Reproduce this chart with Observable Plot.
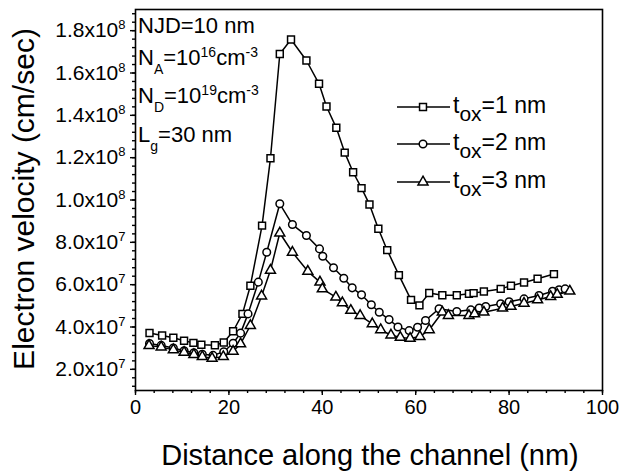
<!DOCTYPE html>
<html><head><meta charset="utf-8">
<script src="https://cdn.jsdelivr.net/npm/d3@7"></script>
<script src="https://cdn.jsdelivr.net/npm/@observablehq/plot@0.6"></script>
<style>body{margin:0;background:#fff} svg{display:block}</style>
</head><body><div id="chart"></div>
<script>
// ---- data (velocity in units of 1e7 cm/s) ----
const seriesNames = ["1", "2", "3"]; // t_ox in nm
const symbols = ["square", "circle", "triangle"];

const x1 = [3.0, 5.7, 8.1, 10.4, 12.4, 14.1, 17.0, 18.9, 20.9, 22.9, 24.6, 27.1, 28.9, 30.9, 33.3, 36.6, 39.3, 40.9, 43.0, 44.8, 46.6, 48.4, 50.1, 52.0, 53.9, 56.4, 59.0, 60.8, 62.9, 65.7, 68.8, 71.4, 72.4, 74.6, 78.2, 80.4, 83.2, 86.1, 89.6];
const v1 = [3.72, 3.60, 3.49, 3.35, 3.25, 3.16, 3.14, 3.27, 3.80, 4.62, 5.95, 8.79, 11.97, 16.9, 17.58, 16.59, 15.49, 14.42, 13.41, 12.24, 11.31, 10.56, 9.79, 8.64, 7.63, 6.45, 5.28, 5.02, 5.61, 5.50, 5.50, 5.57, 5.60, 5.68, 5.80, 5.95, 6.10, 6.28, 6.50];

const x2 = [3.0, 5.5, 8.1, 10.4, 12.5, 14.3, 16.6, 18.9, 20.9, 22.5, 24.1, 26.3, 28.1, 30.9, 33.6, 36.6, 39.4, 40.1, 42.4, 44.6, 46.4, 48.4, 50.5, 52.2, 54.3, 56.2, 58.6, 60.4, 62.1, 65.0, 68.8, 71.8, 73.6, 75.0, 78.2, 80.0, 83.2, 86.4, 89.3, 90.7, 92.0];
const v2 = [3.22, 3.13, 3.01, 2.88, 2.78, 2.71, 2.66, 2.83, 3.23, 3.71, 4.62, 6.12, 7.53, 9.82, 8.84, 8.32, 7.69, 7.34, 6.80, 6.30, 5.85, 5.52, 5.05, 4.70, 4.35, 4.00, 3.83, 3.99, 4.31, 4.86, 4.73, 4.81, 4.90, 4.97, 5.10, 5.19, 5.33, 5.49, 5.69, 5.76, 5.80];

const x3 = [2.9, 5.5, 8.1, 10.4, 12.5, 14.3, 16.4, 18.8, 20.9, 22.5, 24.6, 27.0, 28.9, 30.9, 33.6, 36.9, 39.5, 40.0, 42.9, 44.3, 46.1, 48.1, 50.7, 52.5, 54.7, 56.7, 58.8, 60.9, 62.9, 65.7, 67.0, 71.4, 72.6, 74.6, 78.6, 80.4, 83.2, 86.1, 88.9, 90.3, 93.0];
const v3 = [3.12, 3.05, 2.92, 2.80, 2.69, 2.60, 2.52, 2.60, 2.85, 3.20, 4.07, 5.46, 6.68, 8.44, 7.53, 6.63, 6.12, 5.80, 5.41, 5.14, 4.78, 4.54, 4.15, 3.87, 3.62, 3.51, 3.46, 3.55, 3.87, 4.70, 4.54, 4.54, 4.62, 4.70, 4.89, 4.97, 5.12, 5.28, 5.44, 5.54, 5.69];

const xTicks = [0, 20, 40, 60, 80, 100];
const yTicks = [2e7, 4e7, 6e7, 8e7, 1e8, 1.2e8, 1.4e8, 1.6e8, 1.8e8];
const yTickLabels = ["2.0x10^7", "4.0x10^7", "6.0x10^7", "8.0x10^7", "1.0x10^8", "1.2x10^8", "1.4x10^8", "1.6x10^8", "1.8x10^8"];

const xTitle = "Distance along the channel (nm)";
const yTitle = "Electron velocity (cm/sec)";

// ---- build table ----
const xs = [x1, x2, x3], vs = [v1, v2, v3];
const rows = [];
seriesNames.forEach((s, k) => xs[k].forEach((x, i) => rows.push({s, x, v: vs[k][i] * 1e7})));

const FONT = "'Liberation Sans', Arial, Helvetica, sans-serif";
const SZ = {square: 3.9, circle: 3.8, triangle: 3.7};
const SW = 1.5;

const marks = [
  Plot.frame({stroke: "black", strokeWidth: 1.6}),
  Plot.axisX(d3.range(0, 101, 4), {tickSize: 3, strokeWidth: 1.4, tickFormat: () => "", label: null}),
  Plot.axisX(xTicks, {tickSize: 5, tickPadding: 4, strokeWidth: 1.4, fontSize: 20, tickFormat: d => String(d), label: null}),
  Plot.axisY(d3.range(1.2e7, 1.9e8, 4e6), {tickSize: 3, strokeWidth: 1.4, tickFormat: () => "", label: null}),
  Plot.axisY(yTicks, {tickSize: 5, tickPadding: 5, strokeWidth: 1.4, fontSize: 21, tickFormat: d => yTickLabels[yTicks.indexOf(d)], label: null})
];
seriesNames.forEach((s, k) => {
  const data = rows.filter(r => r.s === s);
  marks.push(Plot.line(data, {x: "x", y: "v", stroke: "black", strokeWidth: SW}));
  marks.push(Plot.dot(data, {x: "x", y: "v", symbol: () => symbols[k], r: SZ[symbols[k]], fill: "white", stroke: "black", strokeWidth: SW}));
});

const chart = Plot.plot({
  width: 622, height: 471,
  marginLeft: 135, marginRight: 20, marginTop: 9, marginBottom: 81,
  style: {fontFamily: FONT, color: "black", background: "white"},
  x: {domain: [0, 100], axis: null, label: null},
  y: {domain: [1e7, 1.9e8], axis: null, label: null},
  symbol: {domain: symbols, range: symbols},
  marks
});
document.getElementById("chart").appendChild(chart);

const svg = d3.select(chart);

// superscripts in y tick labels
svg.selectAll("text").each(function() {
  const t = this.textContent;
  if (t.includes("^")) {
    const [base, exp] = t.split("^");
    const el = d3.select(this);
    el.text(null);
    el.append("tspan").text(base);
    el.append("tspan").attr("font-size", 13).attr("dy", -8).text(exp);
  }
});

// rich text helper
function rich(x, y, parts, size, subSize) {
  const t = svg.append("text").attr("x", x).attr("y", y).attr("text-anchor", "start")
    .attr("font-family", FONT).attr("font-size", size).attr("fill", "black");
  let shift = 0;
  parts.forEach(p => {
    const [txt, kind] = Array.isArray(p) ? p : [p, null];
    const target = kind === "sub" ? 9 : kind === "sup" ? -8 : 0;
    const ts = t.append("tspan").attr("dy", target - shift).text(txt);
    if (kind) ts.attr("font-size", subSize);
    shift = target;
  });
  return t;
}

rich(138, 33, ["NJD=10 nm"], 22, 14);
rich(138, 65, ["N", ["A", "sub"], "=10", ["16", "sup"], "cm", ["-3", "sup"]], 22, 14);
rich(138, 103, ["N", ["D", "sub"], "=10", ["19", "sup"], "cm", ["-3", "sup"]], 22, 14);
rich(138, 142, ["L", ["g", "sub"], "=30 nm"], 22, 14);

// legend
const legY = [107, 144, 182];
seriesNames.forEach((s, k) => {
  const y = legY[k];
  svg.append("line").attr("x1", 397).attr("x2", 450).attr("y1", y).attr("y2", y)
    .attr("stroke", "black").attr("stroke-width", SW);
  const r = SZ[symbols[k]];
  const sym = {square: d3.symbolSquare, circle: d3.symbolCircle, triangle: d3.symbolTriangle}[symbols[k]];
  svg.append("path").attr("d", d3.symbol(sym, r * r * Math.PI)())
    .attr("transform", `translate(423,${y})`)
    .attr("fill", "white").attr("stroke", "black").attr("stroke-width", SW);
  const t = svg.append("text").attr("x", 453).attr("y", y + 6).attr("text-anchor", "start")
    .attr("font-family", FONT).attr("font-size", 23).attr("fill", "black");
  t.append("tspan").text("t");
  t.append("tspan").attr("dy", 8).attr("font-size", 21).text("ox");
  t.append("tspan").attr("dy", -8).text("=" + s + " nm");
});

// axis titles
svg.append("text").attr("x", 370).attr("y", 465).attr("text-anchor", "middle")
  .attr("font-family", FONT).attr("font-size", 29).attr("fill", "black").text(xTitle);
svg.append("text").attr("transform", "translate(34,199) rotate(-90)").attr("text-anchor", "middle")
  .attr("font-family", FONT).attr("font-size", 30).attr("fill", "black").text(yTitle);
</script></body></html>
